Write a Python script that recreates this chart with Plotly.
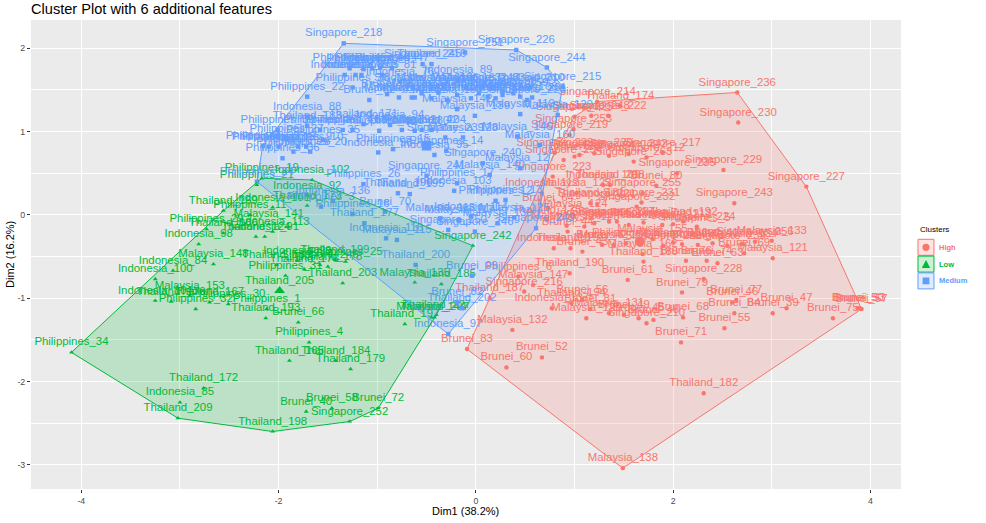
import numpy as np
import plotly.graph_objects as go

# ---- data ----
high_names = ["Singapore_236","Singapore_230","Singapore_227","Singapore_229","Singapore_243","Malaysia_133","Malaysia_121","Philippines_5",
 "Singapore_217","Singapore_212","Singapore_263","Singapore_235","Brunei_80","Singapore_255","Singapore_231","Singapore_232","Thailand_208","Indonesia_109",
 "Singapore_214","Thailand_174","Singapore_248","Singapore_222","Singapore_253","Singapore_219","Singapore_225","Singapore_254","Brunei_78","Singapore_233",
 "Singapore_223","Indonesia_112","Malaysia_122","Thailand_181","Brunei_64","Malaysia_124","Singapore_221","Malaysia_123","Thailand_175","Malaysia_126",
 "Singapore_234","Indonesia_111","Singapore_224","Indonesia_110","Thailand_191","Brunei_43","Brunei_44","Brunei_42","Malaysia_155","Malaysia_162",
 "Thailand_188","Brunei_63","Brunei_69","Brunei_74","Brunei_76","Singapore_237","Singapore_256","Singapore_228","Brunei_79","Brunei_61","Thailand_190",
 "Malaysia_147","Philippines_6","Singapore_216","Thailand_187","Malaysia_132","Brunei_83","Brunei_52","Brunei_60","Thailand_182","Malaysia_138",
 "Brunei_71","Brunei_55","Brunei_68","Singapore_210","Brunei_48","Brunei_45","Malaysia_129","Indonesia_137","Thailand_194","Brunei_56","Brunei_81",
 "Brunei_46","Brunei_77","Brunei_84","Brunei_39","Brunei_47","Brunei_75","Brunei_57","Brunei_50","Brunei_53",
 "Indonesia_106","Singapore_211","Indonesia_107","Philippines_7","Singapore_213","Thailand_192",
 "Malaysia_156","Philippines_8","Singapore_238","Thailand_186","Brunei_73","Brunei_41","Singapore_239","Malaysia_134",
 "Brunei_85","Singapore_220","Brunei_54","Singapore_242","Malaysia_131","Brunei_49"]
high_dim1 = [2.65,2.66,3.35,2.51,2.62,3.00,3.01,2.24,1.89,1.73,1.60,2.04,1.83,1.69,1.68,1.63,1.36,1.29,1.23,1.46,1.17,1.34,0.99,0.95,1.00,0.89,1.00,0.80,
 0.78,0.67,1.02,1.16,0.73,0.98,1.23,1.10,0.72,0.92,1.43,1.89,2.24,0.79,0.96,1.08,0.93,1.28,1.79,1.69,1.70,2.45,2.72,2.34,2.13,2.09,2.83,2.31,2.09,1.54,0.95,
 0.58,0.43,0.49,0.14,0.37,-0.09,0.67,0.31,2.31,1.49,2.08,2.52,2.10,1.73,1.80,1.65,1.12,0.77,0.97,1.08,1.16,2.60,2.64,2.62,3.01,3.15,3.62,3.91,3.87,3.89,
 1.20,1.35,1.55,1.70,2.00,2.10,
 1.40,1.52,1.90,2.00,2.25,2.40,2.55,2.70,
 1.05,1.20,1.35,1.55,1.35,1.50]
high_dim2 = [1.47,1.11,0.34,0.54,0.14,-0.31,-0.52,-0.16,0.75,0.69,0.64,0.50,0.35,0.26,0.15,0.10,0.36,0.36,1.36,1.31,1.19,1.19,1.03,0.96,1.18,0.66,0.70,0.75,
 0.46,0.26,0.26,0.14,0.08,0.01,0.13,-0.14,-0.06,-0.13,-0.08,-0.12,-0.14,-0.40,-0.40,-0.44,-0.20,-0.36,-0.29,-0.47,-0.56,-0.58,-0.46,-0.55,-0.55,-0.35,-0.32,-0.77,-0.93,-0.78,-0.70,
 -0.84,-0.74,-0.92,-1.00,-1.38,-1.61,-1.71,-1.83,-2.14,-3.04,-1.53,-1.36,-1.23,-1.30,-1.26,-1.24,-1.24,-1.12,-1.06,-1.02,-1.13,-1.05,-1.02,-1.18,-1.18,-1.12,-1.24,-1.13,-1.12,-1.12,
 -0.10,-0.08,-0.12,-0.09,-0.11,-0.08,
 -0.36,-0.34,-0.37,-0.33,-0.36,-0.34,-0.37,-0.35,
 0.72,0.74,0.71,0.73,-1.18,-1.20]

low_names = ["Philippines_34","Thailand_172","Indonesia_85","Thailand_209","Thailand_198","Brunei_40","Brunei_58","Brunei_72","Singapore_252","Thailand_165",
 "Thailand_184","Thailand_179","Philippines_4","Brunei_66","Thailand_193","Thailand_197","Indonesia_102","Indonesia_92","Thailand_173","Thailand_169",
 "Philippines_11","Indonesia_101","Malaysia_141","Philippines_29","Indonesia_113","Thailand_186","Thailand_124","Indonesia_91","Indonesia_98","Malaysia_148",
 "Indonesia_84","Indonesia_100","Indonesia_104","Thailand_170","Thailand_167","Philippines_30","Philippines_32","Malaysia_153","Philippines_1","Philippines_31",
 "Thailand_205","Thailand_203","Indonesia_99","Thailand_199","Philippines_25","Thailand_189","Singapore_246","Thailand_176","Thailand_178","Malaysia_135",
 "Thailand_185","Singapore_242","Thailand_207","Thailand_227","Malaysia_144","Philippines_19","Philippines_21"]
low_dim1 = [-4.10,-2.76,-3.00,-3.02,-2.06,-1.72,-1.46,-0.99,-1.28,-1.89,-1.42,-1.27,-1.69,-1.80,-2.13,-0.72,-1.66,-1.71,-1.71,-2.56,-2.29,-2.06,-2.10,-2.73,-2.06,-2.56,-2.23,-2.14,-2.81,-2.66,
 -3.07,-3.25,-3.25,-3.09,-2.70,-2.51,-2.84,-2.90,-2.12,-1.93,-1.99,-1.35,-1.81,-1.43,-1.32,-2.02,-1.58,-1.74,-1.50,-0.62,-0.35,-0.03,-0.42,-0.40,-0.45,-2.17,-2.22]
low_dim2 = [-1.65,-2.08,-2.25,-2.44,-2.60,-2.36,-2.32,-2.32,-2.48,-1.75,-1.75,-1.85,-1.53,-1.29,-1.24,-1.31,0.42,0.23,0.11,0.05,0.00,0.09,-0.11,-0.17,-0.20,-0.22,-0.26,-0.26,-0.35,-0.59,
 -0.67,-0.77,-1.03,-1.04,-1.05,-1.07,-1.13,-0.97,-1.13,-0.73,-0.91,-0.82,-0.55,-0.54,-0.56,-0.60,-0.60,-0.65,-0.62,-0.81,-0.83,-0.37,-1.23,-1.20,-1.23,0.44,0.36]

med_names = ["Singapore_218","Singapore_226","Singapore_251","Singapore_244","Singapore_215","Singapore_245","Thailand_216","Indonesia_89","Philippines_44","Philippines_43",
 "Indonesia_87","Indonesia_105","Indonesia_76","Philippines_38","Singapore_247","Malaysia_106","Indonesia_90","Brunei_62","Philippines_22","Malaysia_145","Malaysia_149",
 "Malaysia_150","Malaysia_143","Indonesia_93","Thailand_206","Thailand_201","Singapore_220","Malaysia_142","Malaysia_139","Malaysia_119","Malaysia_120","Indonesia_88",
 "Thailand_183","Thailand_171","Indonesia_94","Philippines_40","Thailand_180","Singapore_239","Malaysia_128","Malaysia_146","Malaysia_160","Philippines_15","Indonesia_96",
 "Singapore_241","Malaysia_140","Philippines_17","Thailand_196","Thailand_195","Indonesia_103","Philippines_12","Philippines_13","Malaysia_118","Brunei_70","Indonesia_136",
 "Philippines_3","Philippines_26","Philippines_16","Thailand_177","Indonesia_116","Malaysia_115","Thailand_200","Brunei_99","Brunei_82","Thailand_202","Indonesia_97",
 "Singapore_249","Malaysia_125","Philippines_36","Philippines_20","Philippines_35","Philippines_33","Philippines_27","Philippines_28","Philippines_39","Philippines_37",
 "Philippines_24","Malaysia_117","Indonesia_114","Singapore_240","Malaysia_127","Singapore_246","Singapore_250","Philippines_14","Indonesia_95","Malaysia_130",
 "Brunei_65","Malaysia_151","Malaysia_152","Brunei_67","Malaysia_154","Malaysia_157","Indonesia_86","Malaysia_158","Malaysia_159","Indonesia_108",
 "Malaysia_161","Malaysia_163","Singapore_243","Indonesia_83","Thailand_210",
 "Philippines_45","Philippines_46","Philippines_47","Indonesia_82","Indonesia_81",
 "Philippines_41","Thailand_168","Thailand_192","Philippines_42","Thailand_204",
 "Philippines_23","Philippines_18","Philippines_9","Philippines_10"]
med_dim1 = [-1.34,0.41,-0.11,0.72,0.88,-0.54,-0.45,-0.18,-0.97,-1.14,-1.33,-1.16,-0.77,-1.25,-0.64,-0.33,0.27,-1.08,-1.71,-0.65,-0.62,-0.29,-0.19,0.12,0.27,0.57,0.52,-0.19,-0.01,0.45,0.83,
 -1.71,-1.71,-1.14,-0.87,-0.98,-0.62,-0.31,-0.13,0.42,0.65,-0.84,-0.99,-0.50,0.14,-0.19,-0.79,-0.67,-0.22,0.20,0.30,-0.36,-0.92,-1.45,-1.57,-1.14,-1.25,-1.13,-0.91,-0.80,-0.61,-0.04,-0.19,-0.14,-0.28,
 0.61,0.39,-1.96,-1.68,-1.55,-2.16,-1.92,-1.85,-2.01,-1.58,-2.22,-0.17,-0.05,0.07,0.45,-0.01,-0.28,-0.30,-0.42,0.22,
 -0.90,-0.78,-0.55,-0.45,-0.38,-0.05,0.03,0.20,0.38,0.45,
 -0.45,-0.10,0.05,0.15,0.55,
 -1.28,-1.05,-0.85,-1.22,-0.95,
 -1.35,-1.25,-0.75,-0.55,-0.45,
 -2.10,-2.00,-1.80,-1.72]
med_dim2 = [2.06,1.98,1.95,1.77,1.54,1.81,1.81,1.62,1.77,1.75,1.68,1.68,1.60,1.53,1.53,1.53,1.48,1.38,1.42,1.41,1.41,1.38,1.44,1.42,1.44,1.41,1.38,1.27,1.19,1.21,1.20,
 1.18,1.07,1.09,1.08,1.01,1.01,0.93,0.93,0.94,0.84,0.79,0.75,0.47,0.48,0.38,0.26,0.25,0.29,0.17,0.18,-0.04,0.04,0.17,0.10,0.37,0.01,-0.10,-0.28,-0.30,-0.60,-0.73,-1.05,-1.12,-1.43,
 -0.16,-0.03,0.68,0.76,0.90,0.83,0.91,0.76,1.02,1.02,0.40,-0.06,-0.02,0.62,0.56,-0.20,-0.18,0.77,0.72,-0.10,
 1.45,1.41,1.46,1.40,1.47,1.40,1.46,1.40,1.46,1.42,
 1.53,1.53,1.53,1.53,1.53,
 1.76,1.76,1.76,1.68,1.68,
 1.02,1.02,1.02,1.02,1.02,
 0.82,0.82,0.82,0.82]

centroid_high = (1.66, -0.32)
centroid_low = (-1.99, -0.91)
centroid_med = (-0.50, 0.83)
cluster_labels = ["High", "Low", "Medium"]
x_ticks = [-4, -2, 0, 2, 4]
y_ticks = [-3, -2, -1, 0, 1, 2]
x_minor = [-3, -1, 1, 3]
y_minor = [-2.5, -1.5, -0.5, 0.5, 1.5]

# ---- styles ----
COL = {"High": "#F8766D", "Low": "#00BA38", "Medium": "#619CFF"}
FILL = {"High": "rgba(248,118,109,0.2)", "Low": "rgba(0,186,56,0.2)", "Medium": "rgba(97,156,255,0.2)"}
SYM = {"High": "circle", "Low": "triangle-up", "Medium": "square"}
W, H = 986, 523
L, R, T, B = 31, 84.5, 20, 34
LABEL_NUDGE = 0.117  # labels sit this far above their point, in Dim2 units


def hull(xs, ys):
    pts = sorted(set(zip(xs, ys)))
    def half(seq):
        out = []
        for p in seq:
            while len(out) > 1 and ((out[-1][0]-out[-2][0])*(p[1]-out[-2][1]) - (out[-1][1]-out[-2][1])*(p[0]-out[-2][0])) <= 0:
                out.pop()
            out.append(p)
        return out
    lo, up = half(pts), half(pts[::-1])
    ring = lo[:-1] + up[:-1]
    ring.append(ring[0])
    return [p[0] for p in ring], [p[1] for p in ring]


series = [("High", high_names, high_dim1, high_dim2, centroid_high),
          ("Low", low_names, low_dim1, low_dim2, centroid_low),
          ("Medium", med_names, med_dim1, med_dim2, centroid_med)]

fig = go.Figure()
for key, names, xs, ys, cen in series:
    fig.add_trace(go.Scatter(x=xs, y=ys, text=names, mode="markers", name=key, showlegend=False,
                             marker=dict(symbol=SYM[key], size=4.4, color=COL[key], line=dict(width=0))))
    fig.add_trace(go.Scatter(x=xs, y=[v + LABEL_NUDGE for v in ys], text=names, mode="text", name=key + " labels", showlegend=False,
                             textposition="middle center", hoverinfo="skip",
                             textfont=dict(family="Liberation Sans", size=11.4, color=COL[key])))
    fig.add_trace(go.Scatter(x=[cen[0]], y=[cen[1]], mode="markers", showlegend=False, name=key + " centre",
                             marker=dict(symbol=SYM[key], size=9.5, color=COL[key], line=dict(width=0))))
for key, names, xs, ys, cen in series:
    hx, hy = hull(xs, ys)
    fig.add_trace(go.Scatter(x=hx, y=hy, mode="lines", fill="toself", fillcolor=FILL[key], showlegend=False,
                             line=dict(color=COL[key], width=1), hoverinfo="skip", name=key + " hull"))

pw, ph = W - L - R, H - T - B
def px(v): return (v - L) / pw
def py(v): return (H - B - v) / ph

shapes, annos = [], []
for i, key in enumerate(cluster_labels):
    top = 239.3 + i * 16.8
    x0, x1, y0, y1 = 918.5, 934.5, top, top + 16
    shapes.append(dict(type="rect", xref="paper", yref="paper", x0=px(x0), x1=px(x1), y0=py(y1), y1=py(y0),
                       fillcolor=FILL[key], line=dict(color=COL[key], width=1)))
    cx, cy = (x0 + x1) / 2, (y0 + y1) / 2
    if key == "High":
        shapes.append(dict(type="circle", xref="paper", yref="paper", x0=px(cx-3.6), x1=px(cx+3.6), y0=py(cy+3.6), y1=py(cy-3.6),
                           fillcolor=COL[key], line=dict(width=0)))
    elif key == "Low":
        path = f"M{px(cx-4.2)},{py(cy+4)} L{px(cx+4.2)},{py(cy+4)} L{px(cx)},{py(cy-4.2)} Z"
        shapes.append(dict(type="path", xref="paper", yref="paper", path=path, fillcolor=COL[key], line=dict(width=0)))
    else:
        shapes.append(dict(type="rect", xref="paper", yref="paper", x0=px(cx-3.4), x1=px(cx+3.4), y0=py(cy+3.4), y1=py(cy-3.4),
                           fillcolor=COL[key], line=dict(width=0)))
    annos.append(dict(text=f"<b>{key}</b>", xref="paper", yref="paper", x=px(938), y=py(cy), xanchor="left", yanchor="middle",
                      showarrow=False, font=dict(family="Liberation Sans", size=7.5, color=COL[key])))
annos.append(dict(text="Clusters", xref="paper", yref="paper", x=px(918.5), y=py(229.5), xanchor="left", yanchor="middle",
                  showarrow=False, font=dict(family="Liberation Sans", size=8, color="#000000")))
annos.append(dict(text="Cluster Plot with 6 additional features", xref="paper", yref="paper", x=-0.002, y=py(9), xanchor="left", yanchor="middle",
                  showarrow=False, font=dict(family="Liberation Sans", size=14.6, color="#000000")))
annos.append(dict(text="Dim1 (38.2%)", xref="paper", yref="paper", x=px(466), y=py(510.5), xanchor="center", yanchor="middle",
                  showarrow=False, font=dict(family="Liberation Sans", size=11, color="#000000")))
annos.append(dict(text="Dim2 (16.2%)", xref="paper", yref="paper", x=px(10), y=py(255), xanchor="center", yanchor="middle", textangle=-90,
                  showarrow=False, font=dict(family="Liberation Sans", size=11, color="#000000")))

axis_common = dict(showgrid=True, gridcolor="#FFFFFF", gridwidth=1.1, zeroline=False, showline=False, automargin=False,
                   ticks="outside", ticklen=3, tickwidth=1, tickcolor="#333333",
                   tickfont=dict(family="Liberation Sans", size=8.8, color="#4D4D4D"))
fig.update_layout(
    width=W, height=H, margin=dict(l=L, r=R, t=T, b=B, pad=0, autoexpand=False),
    plot_bgcolor="#EBEBEB", paper_bgcolor="#FFFFFF", showlegend=False,
    shapes=shapes, annotations=annos,
    xaxis=dict(range=[-4.51, 4.31], tickvals=x_ticks, ticktext=[str(v) for v in x_ticks],
               minor=dict(tickvals=x_minor, showgrid=True, gridcolor="#FFFFFF", gridwidth=0.55, ticklen=0),
               **axis_common),
    yaxis=dict(range=[-3.29, 2.34], tickvals=y_ticks, ticktext=[str(v) for v in y_ticks],
               minor=dict(tickvals=y_minor, showgrid=True, gridcolor="#FFFFFF", gridwidth=0.55, ticklen=0),
               **axis_common),
)
fig.write_html("out.html", post_script="document.body.style.margin='0';", config={"displayModeBar": False})
